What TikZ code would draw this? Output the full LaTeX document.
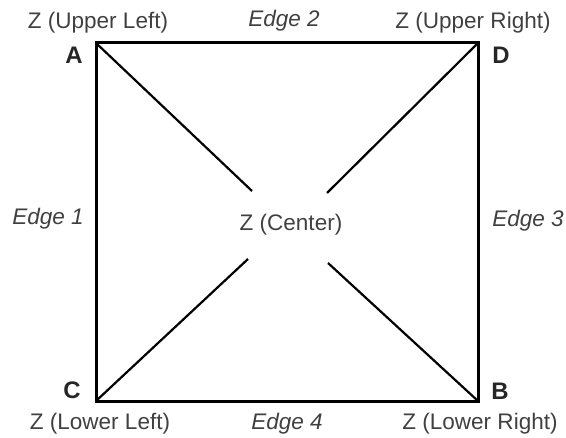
\documentclass[tikz,border=0pt]{standalone}
\usepackage{fontspec}
\setmainfont{Liberation Sans}
\begin{document}
\begin{tikzpicture}[x=1bp,y=-1bp,
  lbl/.style={inner sep=0pt,font=\fontsize{22.6}{24}\selectfont,text=black!75},
  edgelbl/.style={lbl,font=\fontsize{22.6}{24}\selectfont\itshape},
  corner/.style={inner sep=0pt,font=\fontsize{24}{26}\selectfont\bfseries,text=black!85},
  side/.style={line width=3bp,line cap=rect},
  diag/.style={line width=2.2bp}]
\useasboundingbox (0,0) rectangle (566,438);
\coordinate (A) at (96,43);
\coordinate (D) at (478,43);
\coordinate (C) at (96,401);
\coordinate (B) at (478,401);
\coordinate (ea) at (252,191);
\coordinate (ed) at (327,193);
\coordinate (ec) at (248,259);
\coordinate (eb) at (328,263);
\draw[side] (A) -- (D) -- (B) -- (C) -- cycle;
\draw[diag] (A) -- (ea);
\draw[diag] (D) -- (ed);
\draw[diag] (C) -- (ec);
\draw[diag] (B) -- (eb);
\node[lbl] (zc) at (291,225) {Z (Center)};
\node[lbl] (zul) at (98,23) {Z (Upper Left)};
\node[lbl] (zur) at (473,23) {Z (Upper Right)};
\node[lbl] (zll) at (100,424) {Z (Lower Left)};
\node[lbl] (zlr) at (480,424) {Z (Lower Right)};
\node[edgelbl] (e1) at (48,219) {Edge 1};
\node[edgelbl] (e2) at (284,21) {Edge 2};
\node[edgelbl] (e3) at (528,221) {Edge 3};
\node[edgelbl] (e4) at (287,424) {Edge 4};
\node[corner] (la) at (74,55) {A};
\node[corner] (ld) at (501,55) {D};
\node[corner] (lc) at (72,390) {C};
\node[corner] (lb) at (500,391) {B};
\end{tikzpicture}
\end{document}
